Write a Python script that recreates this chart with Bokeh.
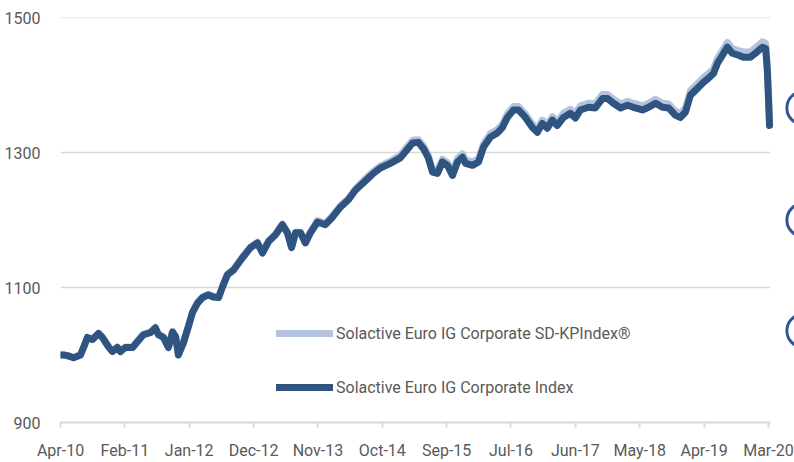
from bokeh.plotting import figure
from bokeh.models import Legend, LegendItem, FixedTicker, Range1d
from bokeh.embed import file_html
from bokeh.resources import INLINE

# trading-day index (0 = Apr-10) and index levels
days = [0, 11, 25, 47, 72, 87, 97, 115, 137, 151,
        173, 187, 205, 216, 234, 260, 278, 299, 324, 342,
        353, 371, 389, 404, 415, 425, 443, 461, 476, 494,
        512, 533, 551, 570, 584, 602, 624, 656, 685, 710,
        728, 750, 775, 800, 818, 833, 847, 865, 883, 901,
        926, 955, 980, 1009, 1038, 1063, 1099, 1125, 1153, 1189,
        1225, 1247, 1269, 1290, 1308, 1326, 1341, 1359, 1377, 1395,
        1413, 1431, 1449, 1460, 1485, 1507, 1525, 1550, 1575, 1593,
        1611, 1633, 1651, 1676, 1701, 1719, 1737, 1755, 1773, 1791,
        1813, 1838, 1856, 1874, 1903, 1928, 1954, 1972, 1993, 2019,
        2044, 2065, 2098, 2120, 2145, 2170, 2192, 2217, 2235, 2253,
        2271, 2296, 2318, 2336, 2354, 2368, 2386, 2404, 2422, 2444,
        2462, 2487, 2505, 2530, 2542, 2548, 2552, 2556]

ig_corporate = [1000, 1000, 999, 996, 1000, 1015, 1026, 1023, 1032, 1026,
                1012, 1005, 1011, 1005, 1011, 1011, 1020, 1030, 1033, 1040,
                1030, 1026, 1011, 1034, 1027, 1000, 1018, 1042, 1063, 1077,
                1085, 1089, 1086, 1085, 1101, 1119, 1126, 1144, 1159, 1166,
                1151, 1168, 1178, 1193, 1181, 1159, 1181, 1181, 1166, 1181,
                1197, 1193, 1204, 1219, 1230, 1244, 1258, 1268, 1277, 1284,
                1292, 1303, 1314, 1315, 1306, 1292, 1271, 1269, 1286, 1281,
                1266, 1286, 1293, 1284, 1281, 1286, 1308, 1323, 1329, 1337,
                1352, 1363, 1363, 1352, 1337, 1330, 1343, 1336, 1348, 1340,
                1352, 1358, 1351, 1363, 1367, 1366, 1380, 1380, 1373, 1366,
                1370, 1367, 1363, 1367, 1373, 1367, 1366, 1355, 1352, 1360,
                1385, 1395, 1404, 1410, 1417, 1432, 1444, 1456, 1447, 1444,
                1441, 1441, 1447, 1456, 1454, 1422, 1382, 1340]

ig_sd_kpi = [1000, 1000, 999, 996, 1000, 1015, 1026, 1023, 1032, 1026,
             1013, 1006, 1012, 1006, 1012, 1012, 1021, 1031, 1034, 1041,
             1031, 1027, 1012, 1035, 1028, 1001, 1019, 1043, 1064, 1078,
             1086, 1090, 1087, 1086, 1102, 1120, 1127, 1145, 1160, 1167,
             1152, 1169, 1179, 1194, 1182, 1160, 1182, 1182, 1167, 1182,
             1199, 1195, 1206, 1221, 1232, 1246, 1261, 1271, 1280, 1287,
             1296, 1307, 1318, 1319, 1310, 1296, 1275, 1273, 1290, 1285,
             1271, 1291, 1298, 1289, 1286, 1291, 1313, 1328, 1334, 1342,
             1357, 1368, 1368, 1357, 1342, 1335, 1348, 1341, 1353, 1345,
             1358, 1364, 1357, 1369, 1373, 1372, 1386, 1386, 1379, 1372,
             1376, 1373, 1369, 1373, 1379, 1373, 1372, 1361, 1358, 1366,
             1392, 1402, 1411, 1417, 1424, 1439, 1451, 1463, 1454, 1451,
             1449, 1449, 1455, 1464, 1462, 1429, 1388, 1345]

tick_days = [0, 232, 464, 696, 928, 1160, 1392, 1624, 1856, 2088, 2320, 2552]
tick_labels = ["Apr-10", "Feb-11", "Jan-12", "Dec-12", "Nov-13", "Oct-14",
               "Sep-15", "Jul-16", "Jun-17", "May-18", "Apr-19", "Mar-20"]
y_ticks = [900, 1100, 1300, 1500]
axis_end_day = 2559          # end of the plotted period (grid / axis extent)

# partial round markers cut off at the right edge of the original image
edge_marker_x = [2678, 2678, 2678]
edge_marker_y = [1366, 1200, 1036]

series_names = ["Solactive Euro IG Corporate SD-KPIndex\u00ae",
                "Solactive Euro IG Corporate Index"]

FONT = "Roboto"
TEXT = "#595959"
GRID = "#d9d9d9"
DARK = "#2f5480"
LIGHT = "#b4c4df"
MARK = "#2f5597"

p = figure(width=794, height=462, x_range=Range1d(0, 2646), y_range=Range1d(900, 1500),
           output_backend="svg", toolbar_location=None,
           min_border_left=60, min_border_right=0, min_border_top=17, min_border_bottom=39)
p.outline_line_color = None
p.background_fill_color = "white"
p.border_fill_color = "white"

# horizontal gridlines limited to the plotted period
p.xgrid.visible = False
p.ygrid.visible = False
p.segment(x0=[0] * 3, x1=[axis_end_day] * 3, y0=y_ticks[1:], y1=y_ticks[1:],
          line_color=GRID, line_width=1.5)

r_light = p.line(days, ig_sd_kpi, line_color=LIGHT, line_width=7,
                 line_cap="round", line_join="round")
r_dark = p.line(days, ig_corporate, line_color=DARK, line_width=7,
                line_cap="round", line_join="round")

p.scatter(edge_marker_x, edge_marker_y, marker="circle", size=33,
          fill_color=None, line_color=MARK, line_width=3)

p.yaxis.ticker = FixedTicker(ticks=y_ticks)
p.yaxis.axis_line_alpha = 0
p.yaxis.major_tick_line_alpha = 0
p.yaxis.minor_tick_line_alpha = 0
p.yaxis.major_tick_out = 0
p.yaxis.major_tick_in = 0
p.yaxis.major_label_standoff = 20
p.yaxis.major_label_text_font = FONT
p.yaxis.major_label_text_font_size = "16px"
p.yaxis.major_label_text_color = TEXT

p.xaxis.ticker = FixedTicker(ticks=tick_days)
p.xaxis.bounds = (0, axis_end_day)
p.xaxis.major_label_overrides = {d: l for d, l in zip(tick_days, tick_labels)}
p.xaxis.axis_line_color = GRID
p.xaxis.axis_line_width = 2
p.xaxis.major_tick_line_color = GRID
p.xaxis.major_tick_line_width = 2
p.xaxis.major_tick_out = 5
p.xaxis.major_tick_in = 0
p.xaxis.minor_tick_line_alpha = 0
p.xaxis.major_label_standoff = 13
p.xaxis.major_label_text_font = FONT
p.xaxis.major_label_text_font_size = "16px"
p.xaxis.major_label_text_color = TEXT

legend = Legend(items=[LegendItem(label=series_names[0], renderers=[r_light]),
                       LegendItem(label=series_names[1], renderers=[r_dark])],
                location=(216, 23), orientation="vertical",
                glyph_width=57, glyph_height=24, label_height=24, spacing=30,
                label_standoff=3, padding=0, margin=0,
                border_line_alpha=0, background_fill_alpha=0,
                label_text_font=FONT, label_text_font_size="16px",
                label_text_color=TEXT)
p.add_layout(legend)

open("out.html", "w").write(file_html(p, INLINE))
